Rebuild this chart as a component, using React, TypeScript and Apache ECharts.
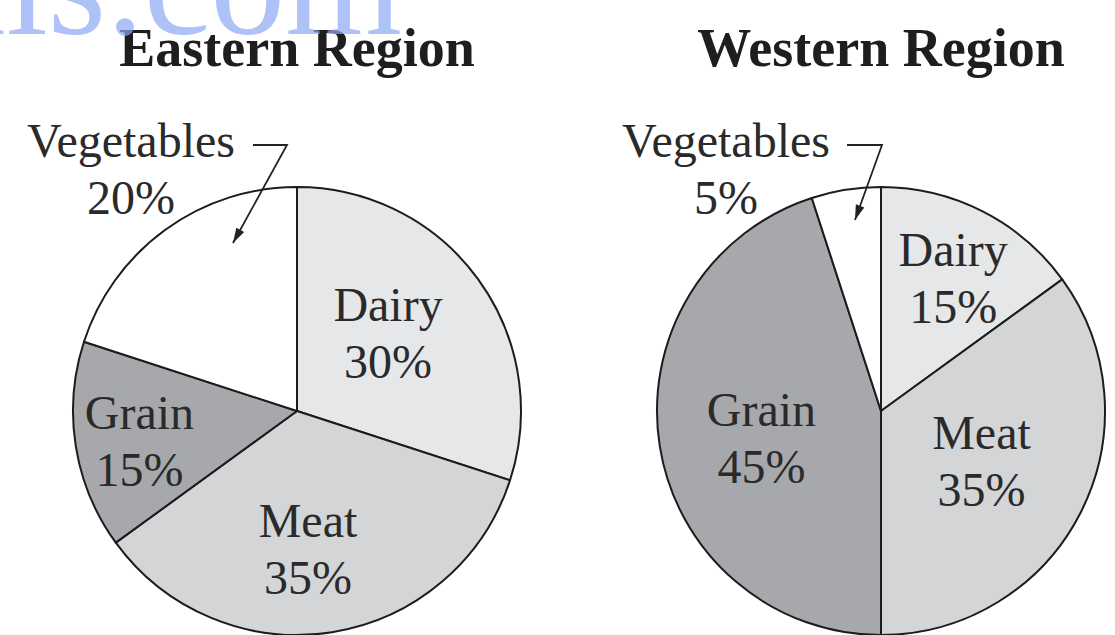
import React, { useEffect, useRef } from "react";
import * as echarts from "echarts";

// ---- data ----
const regions = ["Eastern Region", "Western Region"];
const categories = ["Dairy", "Meat", "Grain", "Vegetables"];
const easternValues = [30, 35, 15, 20];
const westernValues = [15, 35, 45, 5];
const sliceColors = ["#e6e7e9", "#d4d5d7", "#a7a8ab", "#ffffff"];
const watermarkText = "ils.com";

// ---- layout (positions / styles) ----
const SERIF = "'Liberation Serif', 'Times New Roman', serif";
const PIE_R = 224;
const centers: [number, number][] = [
  [297, 411],
  [881, 411],
];
// label nudges for inside labels, per region, per category
const labelNudges: [number, number][][] = [
  [[-2, -10], [-7, 24], [-44, 12], [0, 0]],
  [[20, -31], [-2, -2], [-6, 9], [0, 0]],
];
// outside label position for the small "Vegetables" slice
const outsideLabel: [number, number][] = [
  [131, 169],
  [726, 169],
];
// leader arrows: [elbow-start, corner, tip]
const arrows: [number, number][][] = [
  [[253, 145], [287, 145], [233, 243]],
  [[847, 145], [882, 145], [855, 220]],
];

function arrowHead(from: [number, number], tip: [number, number]) {
  const dx = tip[0] - from[0];
  const dy = tip[1] - from[1];
  const len = Math.hypot(dx, dy);
  const ux = dx / len, uy = dy / len;
  const L = 15, W = 4.5;
  const bx = tip[0] - ux * L, by = tip[1] - uy * L;
  return [
    [tip[0], tip[1]],
    [bx - uy * W, by + ux * W],
    [bx + uy * W, by - ux * W],
  ];
}

export default function App() {
  const ref = useRef<HTMLDivElement>(null);
  useEffect(() => {
    if (!ref.current) return;
    const chart = echarts.init(ref.current, null, { renderer: "svg" });
    const valueSets = [easternValues, westernValues];

    const series = valueSets.map((vals, r) => ({
      type: "pie",
      center: centers[r],
      radius: PIE_R,
      startAngle: 90,
      clockwise: true,
      silent: true,
      avoidLabelOverlap: false,
      z: 2,
      data: categories.map((name, i) => ({
        name,
        value: vals[i],
        itemStyle: { color: sliceColors[i] },
      })),
      itemStyle: { borderColor: "#1c1c1c", borderWidth: 2 },
      label: {
        show: true,
        position: "inside",
        formatter: "{b}\n{c}%",
        fontFamily: SERIF,
        fontSize: 48,
        lineHeight: 57,
        color: "#2a2a2a",
      },
      labelLine: { show: false },
      emphasis: { disabled: true },
      labelLayout: (p: any) => {
        const i = p.dataIndex;
        if (categories[i] === "Vegetables") {
          return {
            x: outsideLabel[r][0],
            y: outsideLabel[r][1],
            align: "center",
            verticalAlign: "middle",
          };
        }
        return { dx: labelNudges[r][i][0], dy: labelNudges[r][i][1] };
      },
    }));

    const graphic: any[] = [];
    regions.forEach((t, r) => {
      graphic.push({
        type: "text",
        x: centers[r][0],
        y: 48,
        z: 50,
        style: {
          text: t,
          fontFamily: SERIF,
          fontWeight: "bold",
          fontSize: 54,
          fill: "#1e1e1e",
          align: "center",
          verticalAlign: "middle",
        },
      });
      const a = arrows[r];
      graphic.push({
        type: "polyline",
        z: 100,
        shape: { points: a },
        style: { stroke: "#222", lineWidth: 1.8, fill: null },
      });
      graphic.push({
        type: "polygon",
        z: 100,
        shape: { points: arrowHead(a[1], a[2]) },
        style: { fill: "#222" },
      });
    });
    graphic.push({
      type: "text",
      x: 402,
      y: -92,
      z: 60,
      style: {
        text: watermarkText,
        fontFamily: SERIF,
        fontSize: 150,
        fill: "rgba(140,168,245,0.7)",
        align: "right",
        verticalAlign: "top",
      },
    });

    chart.setOption({
      animation: false,
      backgroundColor: "#ffffff",
      series,
      graphic,
    });
    return () => chart.dispose();
  }, []);

  return (
    <div
      ref={ref}
      style={{ position: "fixed", left: 0, top: 0, width: 1115, height: 635 }}
    />
  );
}
